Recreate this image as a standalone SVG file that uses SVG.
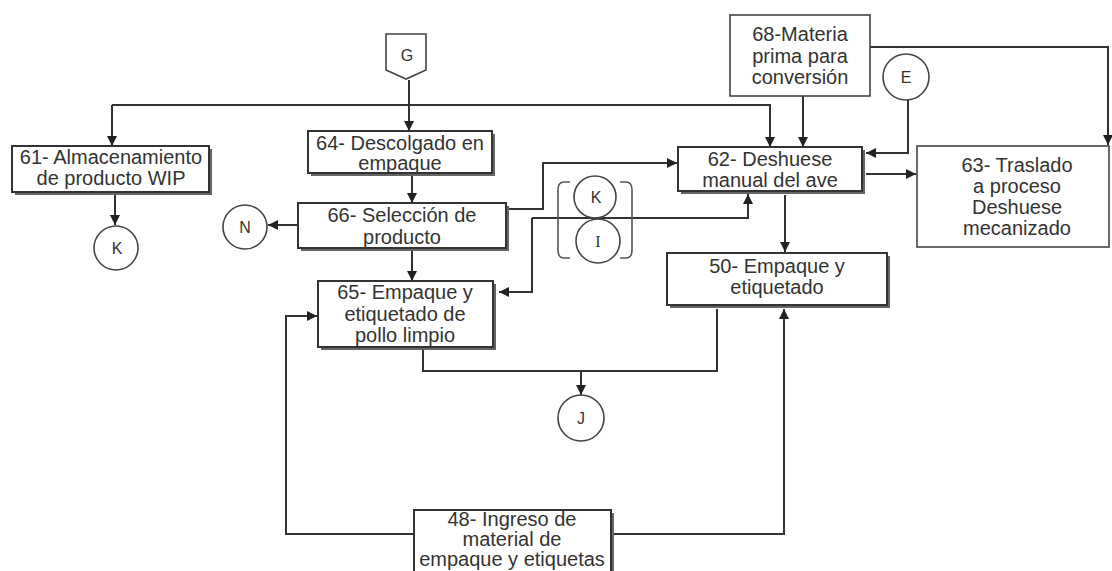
<svg xmlns="http://www.w3.org/2000/svg" width="1112" height="571" viewBox="0 0 1112 571">
  <defs>
    <marker id="arrow" viewBox="0 0 10 10" refX="10" refY="5" markerWidth="10" markerHeight="10" markerUnits="userSpaceOnUse" orient="auto">
      <path d="M0,0 L10,5 L0,10 z" fill="#222"/>
    </marker>
  </defs>
  <style>
    .box { fill: #fff; stroke: #333; stroke-width: 2; }
    .thin { fill: #fff; stroke: #444; stroke-width: 1.6; }
    .shadow { fill: #666; }
    .circ { fill: #fff; stroke: #444; stroke-width: 1.6; }
    .lbl { font-family: "Liberation Sans", Arial, sans-serif; font-size: 20px; fill: #333; text-anchor: middle; }
    .sym { font-family: "Liberation Sans", Arial, sans-serif; font-size: 16px; fill: #333; text-anchor: middle; }
    .conn path { fill: none; stroke: #333; stroke-width: 2; }
    .conn .a { marker-end: url(#arrow); }
    .brk { fill: none; stroke: #555; stroke-width: 1.6; }
  </style>

  <rect width="1112" height="571" fill="#fff"/>

  <!-- connectors -->
  <g id="connectors" class="conn">
    <path class="a" d="M409,80 V131"/>
    <path class="a" d="M112,105 V146"/>
    <path class="a" d="M112,105 H770 V147"/>
    <path class="a" d="M115,193 V225"/>
    <path class="a" d="M412,174 V203"/>
    <path class="a" d="M298,225 H268"/>
    <path class="a" d="M412,249 V281"/>
    <path class="a" d="M508,209 H543 V163 H677"/>
    <path class="a" d="M532,218 H748 V194"/>
    <path class="a" d="M532,218 V292 H499"/>
    <path class="a" d="M803,96 V147"/>
    <path class="a" d="M908,100 V153 H866"/>
    <path class="a" d="M866,174 H916"/>
    <path class="a" d="M870,47 H1108 V145"/>
    <path class="a" d="M785,195 V252"/>
    <path d="M423,348 V371 H717 V309"/>
    <path class="a" d="M581,371 V395"/>
    <path class="a" d="M414,534 H286 V316 H317"/>
    <path class="a" d="M612,534 H784 V309"/>
  </g>

  <!-- off-page connector G -->
  <g id="G">
    <path class="thin" d="M386,34 H426 V70 L406,79 L386,70 Z"/>
    <text class="sym" x="407" y="61">G</text>
  </g>

  <g id="n61">
    <rect class="shadow" x="15" y="149" width="197" height="46"/>
    <rect class="box" x="12" y="146" width="197" height="46"/>
    <text class="lbl" x="111" y="164">61- Almacenamiento</text>
    <text class="lbl" x="111" y="185">de producto WIP</text>
  </g>

  <g id="K1">
    <circle class="circ" cx="116" cy="248" r="22"/>
    <text class="sym" x="117" y="254">K</text>
  </g>

  <g id="n64">
    <rect class="shadow" x="311" y="134" width="184" height="42"/>
    <rect class="box" x="308" y="131" width="184" height="42"/>
    <text class="lbl" x="400" y="150">64- Descolgado en</text>
    <text class="lbl" x="400" y="170">empaque</text>
  </g>

  <g id="n66">
    <rect class="shadow" x="301" y="206" width="208" height="45"/>
    <rect class="box" x="298" y="203" width="208" height="45"/>
    <text class="lbl" x="402" y="222">66- Selección de</text>
    <text class="lbl" x="402" y="244">producto</text>
  </g>

  <g id="N">
    <circle class="circ" cx="245" cy="227" r="22"/>
    <text class="sym" x="245" y="233">N</text>
  </g>

  <g id="n65">
    <rect class="shadow" x="321" y="284" width="175" height="66"/>
    <rect class="box" x="318" y="281" width="175" height="66"/>
    <text class="lbl" x="405" y="299">65- Empaque y</text>
    <text class="lbl" x="405" y="321">etiquetado de</text>
    <text class="lbl" x="405" y="342">pollo limpio</text>
  </g>

  <!-- grouped connectors K / I -->
  <g id="KI">
    <path class="brk" d="M570,182 H564 Q558,182 558,190 V250 Q558,258 564,258 H570"/>
    <path class="brk" d="M620,182 H626 Q632,182 632,190 V250 Q632,258 626,258 H620"/>
    <circle class="circ" cx="595" cy="197" r="21"/>
    <text class="sym" x="596" y="203">K</text>
    <circle class="circ" cx="598" cy="241" r="22"/>
    <text class="sym" x="598" y="247" style="font-family:'Liberation Serif',serif">I</text>
  </g>

  <g id="n68">
    <rect class="thin" x="730" y="15" width="140" height="81"/>
    <text class="lbl" x="800" y="41">68-Materia</text>
    <text class="lbl" x="800" y="63">prima para</text>
    <text class="lbl" x="800" y="84">conversión</text>
  </g>

  <g id="E">
    <circle class="circ" cx="906" cy="77" r="23"/>
    <text class="sym" x="906" y="83">E</text>
  </g>

  <g id="n62">
    <rect class="shadow" x="681" y="150" width="184" height="44"/>
    <rect class="box" x="678" y="147" width="184" height="44"/>
    <text class="lbl" x="770" y="166">62- Deshuese</text>
    <text class="lbl" x="770" y="187">manual del ave</text>
  </g>

  <g id="n63">
    <rect class="thin" x="917" y="146" width="192" height="101"/>
    <text class="lbl" x="1017" y="172">63- Traslado</text>
    <text class="lbl" x="1017" y="193">a proceso</text>
    <text class="lbl" x="1017" y="214">Deshuese</text>
    <text class="lbl" x="1017" y="235">mecanizado</text>
  </g>

  <g id="n50">
    <rect class="shadow" x="670" y="256" width="220" height="52"/>
    <rect class="box" x="667" y="253" width="220" height="52"/>
    <text class="lbl" x="777" y="273">50- Empaque y</text>
    <text class="lbl" x="777" y="294">etiquetado</text>
  </g>

  <g id="J">
    <circle class="circ" cx="581" cy="418" r="23"/>
    <text class="sym" x="581" y="424">J</text>
  </g>

  <g id="n48">
    <rect class="shadow" x="417" y="513" width="197" height="70"/>
    <rect class="box" x="414" y="510" width="197" height="70"/>
    <text class="lbl" x="512" y="526">48- Ingreso de</text>
    <text class="lbl" x="512" y="546">material de</text>
    <text class="lbl" x="512" y="566">empaque y etiquetas</text>
  </g>
</svg>
